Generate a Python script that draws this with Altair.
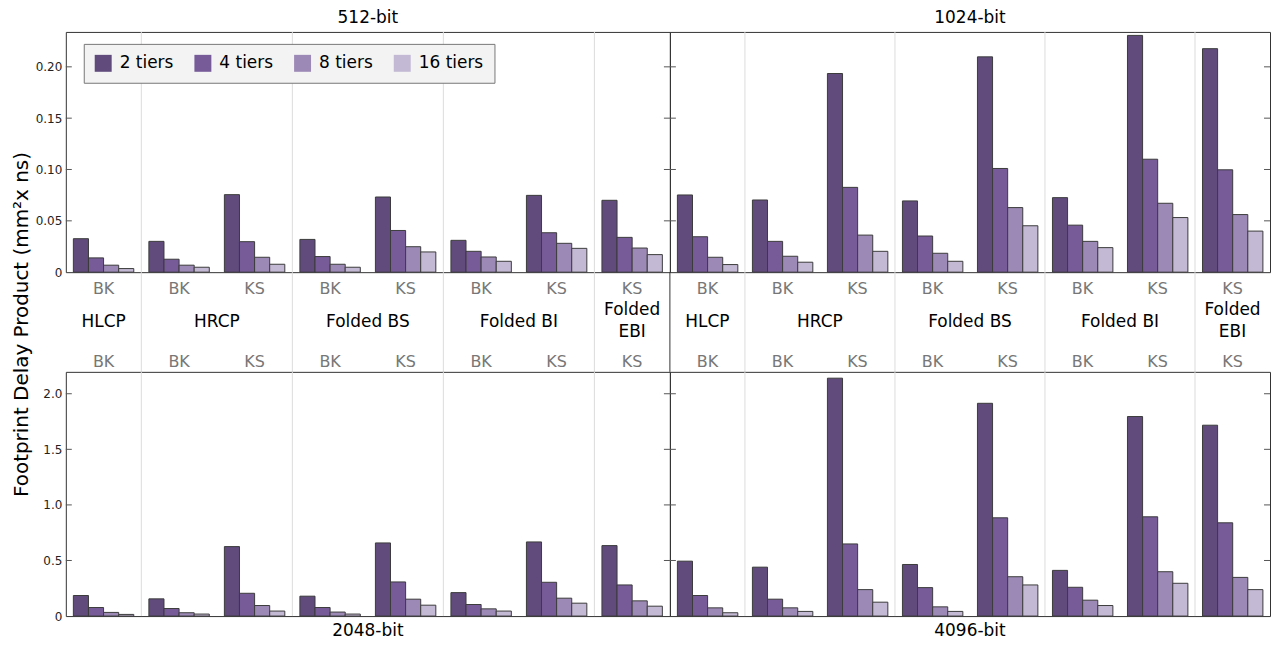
import altair as alt
import pandas as pd

# ---------------- data ----------------
groups = ["HLCP", "HRCP", "Folded BS", "Folded BI", "Folded EBI"]
group_labels = ["HLCP", "HRCP", "Folded BS", "Folded BI", "Folded\nEBI"]
group_adders = [["BK"], ["BK", "KS"], ["BK", "KS"], ["BK", "KS"], ["KS"]]
tiers = ["2 tiers", "4 tiers", "8 tiers", "16 tiers"]
tier_colors = ["#614b7d", "#775b99", "#9d89b6", "#c4b9d4"]
panel_names = ["512-bit", "1024-bit", "2048-bit", "4096-bit"]

# rows: HLCP-BK, HRCP-BK, HRCP-KS, BS-BK, BS-KS, BI-BK, BI-KS, EBI-KS ; cols: 2,4,8,16 tiers
fdp_512 = [
    [0.0326, 0.0139, 0.0068, 0.0035],
    [0.0300, 0.0126, 0.0068, 0.0048],
    [0.0755, 0.0297, 0.0145, 0.0077],
    [0.0319, 0.0152, 0.0077, 0.0048],
    [0.0732, 0.0406, 0.0248, 0.0197],
    [0.0310, 0.0203, 0.0148, 0.0106],
    [0.0748, 0.0384, 0.0281, 0.0232],
    [0.0700, 0.0339, 0.0235, 0.0171],
]
fdp_1024 = [
    [0.0752, 0.0345, 0.0145, 0.0074],
    [0.0703, 0.0300, 0.0155, 0.0097],
    [0.1935, 0.0826, 0.0361, 0.0203],
    [0.0694, 0.0352, 0.0184, 0.0106],
    [0.2097, 0.1010, 0.0629, 0.0452],
    [0.0726, 0.0458, 0.0300, 0.0239],
    [0.2306, 0.1100, 0.0671, 0.0532],
    [0.2177, 0.0997, 0.0561, 0.0400],
]
fdp_2048 = [
    [0.185, 0.077, 0.033, 0.015],
    [0.155, 0.068, 0.030, 0.018],
    [0.625, 0.205, 0.095, 0.045],
    [0.179, 0.077, 0.036, 0.018],
    [0.658, 0.307, 0.152, 0.098],
    [0.211, 0.104, 0.065, 0.045],
    [0.667, 0.304, 0.161, 0.116],
    [0.634, 0.280, 0.137, 0.089],
]
fdp_4096 = [
    [0.494, 0.185, 0.074, 0.030],
    [0.440, 0.152, 0.074, 0.042],
    [2.140, 0.649, 0.238, 0.125],
    [0.464, 0.256, 0.083, 0.042],
    [1.914, 0.884, 0.354, 0.280],
    [0.411, 0.259, 0.143, 0.095],
    [1.795, 0.893, 0.399, 0.295],
    [1.717, 0.839, 0.348, 0.238],
]

yticks_top = [0, 0.05, 0.10, 0.15, 0.20]
yticks_bot = [0, 0.5, 1.0, 1.5, 2.0]
ydomain_top = [0, 0.234]
ydomain_bot = [0, 2.197]
y_title = "Footprint Delay Product (mm²x ns)"

# ---------------- derived structure ----------------
slots = [f"{g}|{a}" for g, ads in zip(groups, group_adders) for a in ads]
n_slots = len(slots)
sizes = [len(a) for a in group_adders]
starts = []
acc = 0
for s in sizes:
    starts.append(acc)
    acc += s
boundaries = starts[1:]
centers = [st + n / 2 for st, n in zip(starts, sizes)]

W_L, W_R = 606, 602
H_TOP, H_MID, H_BOT = 241, 100, 245
FONT = "DejaVu Sans"

sep_scale = alt.Scale(domain=[0, n_slots], nice=False, zero=False)


def panel(name, values, ydom, yticks, yfmt, width, height, is_top, is_left):
    rows = []
    for slot, vals in zip(slots, values):
        for t, v in zip(tiers, vals):
            rows.append({"slot": slot, "tier": t, "value": v})
    df = pd.DataFrame(rows)

    yscale = alt.Scale(domain=ydom, nice=False, zero=True)
    if is_left:
        axis_kw = dict(
            values=yticks,
            labelExpr=f"datum.value == 0 ? '0' : format(datum.value, '{yfmt}')",
            ticks=False, domain=False, grid=False,
            labelFontSize=12, labelColor="#222", labelPadding=4, labelFont=FONT,
        )
        if is_top:
            axis_kw.update(title=y_title, titleFontSize=20, titleFontWeight="normal",
                           titleColor="black", titlePadding=4, titleFont=FONT,
                           titleY=(H_TOP + H_MID / 2 + 2))
        else:
            axis_kw.update(title=None)
        yaxis = alt.Axis(**axis_kw)
    else:
        yaxis = None

    xaxis = alt.Axis(
        orient="bottom" if is_top else "top", title=None,
        labelExpr="split(datum.label, '|')[1]", labelAngle=0,
        ticks=False, domain=False, grid=False,
        labelColor="#777", labelFontSize=16, labelFont=FONT,
        labelPadding=8 if is_top else 2,
    )

    legend = alt.Legend(
        title=None, orient="none", legendX=18, legendY=12, direction="horizontal",
        fillColor="#f3f3f3", strokeColor="#777", padding=11,
        symbolType="square", symbolSize=289, symbolStrokeWidth=0,
        labelFontSize=17, labelFont=FONT, labelColor="black",
        columnPadding=21, labelOffset=8,
    )

    sep = alt.Chart(pd.DataFrame({"b": boundaries})).mark_rule(
        color="#dcdcdc", strokeWidth=1
    ).encode(x=alt.X("b:Q", scale=sep_scale, axis=None))

    bars = alt.Chart(df).mark_bar(stroke="#3b3b3b", strokeWidth=1).encode(
        x=alt.X("slot:N", scale=alt.Scale(domain=slots, paddingInner=0.2, paddingOuter=0.1),
                axis=xaxis, sort=slots),
        xOffset=alt.XOffset("tier:N", scale=alt.Scale(domain=tiers), sort=tiers),
        y=alt.Y("value:Q", scale=yscale, axis=yaxis),
        color=alt.Color("tier:N", scale=alt.Scale(domain=tiers, range=tier_colors),
                        legend=legend, sort=tiers),
    )

    tdf = pd.DataFrame({"value": yticks[1:]})
    tick_l = alt.Chart(tdf).mark_rule(color="#555", strokeWidth=1).encode(
        y=alt.Y("value:Q", scale=yscale, axis=yaxis), x=alt.value(0), x2=alt.value(6))
    tick_r = alt.Chart(tdf).mark_rule(color="#555", strokeWidth=1).encode(
        y=alt.Y("value:Q", scale=yscale, axis=yaxis), x=alt.value(width - 6), x2=alt.value(width))

    if is_top:
        t_off = 4
    else:
        t_off = 1 if is_left else 6
    return alt.layer(sep, bars, tick_l, tick_r).resolve_scale(x="independent").properties(
        width=width, height=height,
        title=alt.TitleParams(name, orient="top" if is_top else "bottom", anchor="middle",
                              frame="group", fontSize=17, fontWeight="normal", font=FONT,
                              color="black", offset=t_off),
    )


def middle(width, is_right):
    sep = alt.Chart(pd.DataFrame({"b": boundaries})).mark_rule(
        color="#dcdcdc", strokeWidth=1
    ).encode(x=alt.X("b:Q", scale=sep_scale, axis=None))
    single = [(c, l) for c, l in zip(centers, group_labels) if "\n" not in l]
    multi = [(c, l) for c, l in zip(centers, group_labels) if "\n" in l]
    txt_kw = dict(fontSize=17, font=FONT, lineBreak="\n", baseline="middle", align="center",
                  color="black", lineHeight=22)
    txt1 = alt.Chart(pd.DataFrame(single, columns=["pos", "label"])).mark_text(**txt_kw).encode(
        x=alt.X("pos:Q", scale=sep_scale, axis=None), y=alt.value(H_MID / 2), text="label:N")
    txt2 = alt.Chart(pd.DataFrame(multi, columns=["pos", "label"])).mark_text(
        dy=-12, **txt_kw).encode(
        x=alt.X("pos:Q", scale=sep_scale, axis=None), y=alt.value(H_MID / 2), text="label:N")
    layers = [sep, txt1, txt2]
    if is_right:
        edge = alt.Chart(pd.DataFrame({"b": [0]})).mark_rule(color="#333", strokeWidth=1).encode(
            x=alt.X("b:Q", scale=sep_scale, axis=None))
        layers.append(edge)
    return alt.layer(*layers).properties(
        width=width, height=H_MID, view=alt.ViewBackground(stroke="transparent"))


p512 = panel(panel_names[0], fdp_512, ydomain_top, yticks_top, ".2f", W_L, H_TOP, True, True)
p1024 = panel(panel_names[1], fdp_1024, ydomain_top, yticks_top, ".2f", W_R, H_TOP, True, False)
p2048 = panel(panel_names[2], fdp_2048, ydomain_bot, yticks_bot, ".1f", W_L, H_BOT, False, True)
p4096 = panel(panel_names[3], fdp_4096, ydomain_bot, yticks_bot, ".1f", W_R, H_BOT, False, False)

chart = alt.concat(
    p512, p1024, middle(W_L, False), middle(W_R, True), p2048, p4096,
    columns=2, spacing=0, bounds="flush",
).properties(
    padding={"left": 2, "right": 0, "top": 0, "bottom": 0}
).configure(font=FONT).configure_view(stroke="#333", strokeWidth=1)

chart.save("out.html", embed_options={"renderer": "svg", "actions": False})
